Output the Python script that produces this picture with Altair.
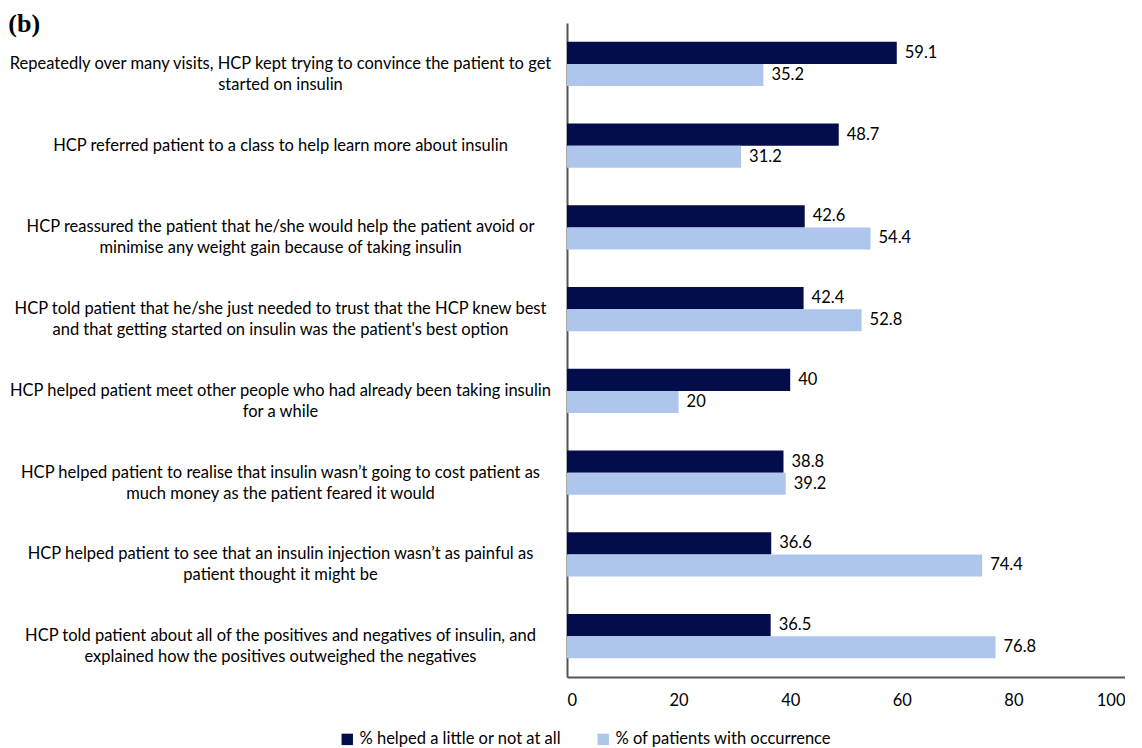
import altair as alt
import pandas as pd

categories = [
    "Repeatedly over many visits, HCP kept trying to convince the patient to get|started on insulin",
    "HCP referred patient to a class to help learn more about insulin",
    "HCP reassured the patient that he/she would help the patient avoid or|minimise any weight gain because of taking insulin",
    "HCP told patient that he/she just needed to trust that the HCP knew best|and that getting started on insulin was the patient's best option",
    "HCP helped patient meet other people who had already been taking insulin|for a while",
    "HCP helped patient to realise that insulin wasn\u2019t going to cost patient as|much money as the patient feared it would",
    "HCP helped patient to see that an insulin injection wasn\u2019t as painful as|patient thought it might be",
    "HCP told patient about all of the positives and negatives of insulin, and|explained how the positives outweighed the negatives",
]
helped = [59.1, 48.7, 42.6, 42.4, 40, 38.8, 36.6, 36.5]
occurrence = [35.2, 31.2, 54.4, 52.8, 20, 39.2, 74.4, 76.8]
series = ["% helped a little or not at all", "% of patients with occurrence"]
colors = ["#030d4c", "#aec6ec"]

rows = []
for c, h, o in zip(categories, helped, occurrence):
    rows.append({"cat": c, "series": series[0], "value": h})
    rows.append({"cat": c, "series": series[1], "value": o})
df = pd.DataFrame(rows)

FONT = "Lato"
FS = 16.5
AXIS_COLOR = "#555555"

base = alt.Chart(df).encode(
    y=alt.Y(
        "cat:N",
        sort=categories,
        scale=alt.Scale(paddingInner=0.46, paddingOuter=0.23),
        axis=alt.Axis(
            title=None,
            labelExpr="split(datum.label, '|')",
            labelAlign="center",
            labelPadding=287,
            labelFontSize=FS,
            labelLineHeight=21,
            labelFont=FONT,
            labelColor="#000000",
            ticks=False,
            domain=True,
            domainColor=AXIS_COLOR,
            domainWidth=2,
            labelLimit=0,
            grid=False,
        ),
    ),
    x=alt.X(
        "value:Q",
        scale=alt.Scale(domain=[0, 100]),
        axis=alt.Axis(
            title=None,
            values=[0, 20, 40, 60, 80, 100],
            grid=False,
            ticks=False,
            domain=True,
            labelPadding=15,
            labelFontSize=FS,
            labelFont=FONT,
            labelColor="#000000",
            domainColor=AXIS_COLOR,
            domainWidth=2,
        ),
    ),
    yOffset=alt.YOffset("series:N", sort=series),
)

bars = base.mark_bar().encode(
    color=alt.Color(
        "series:N",
        sort=series,
        scale=alt.Scale(domain=series, range=colors),
        legend=alt.Legend(
            title=None,
            orient="none",
            direction="horizontal",
            legendX=-228,
            legendY=708,
            symbolType="square",
            symbolSize=130,
            symbolStrokeWidth=0,
            labelFontSize=FS,
            labelFont=FONT,
            labelColor="#000000",
            columnPadding=34,
            labelLimit=0,
        ),
    ),
)

labels = base.mark_text(
    align="left", baseline="middle", dx=8, fontSize=FS, font=FONT, color="#000000"
).encode(text=alt.Text("value:Q"))

chart = (
    alt.layer(bars, labels)
    .properties(
        width=558,
        height=654,
        padding={"top": 3, "left": 0, "right": 0, "bottom": 0},
        title=alt.TitleParams(
            "(b)",
            anchor="start",
            frame="bounds",
            font="Liberation Serif",
            fontSize=26,
            fontWeight="bold",
            color="#000000",
            offset=-14,
        ),
    )
    .configure_view(stroke="transparent", strokeWidth=0, strokeOpacity=0)
    .configure_axis(gridOpacity=0, tickOpacity=0)
)

chart.save("out.html", embed_options={"renderer": "svg", "actions": False})
